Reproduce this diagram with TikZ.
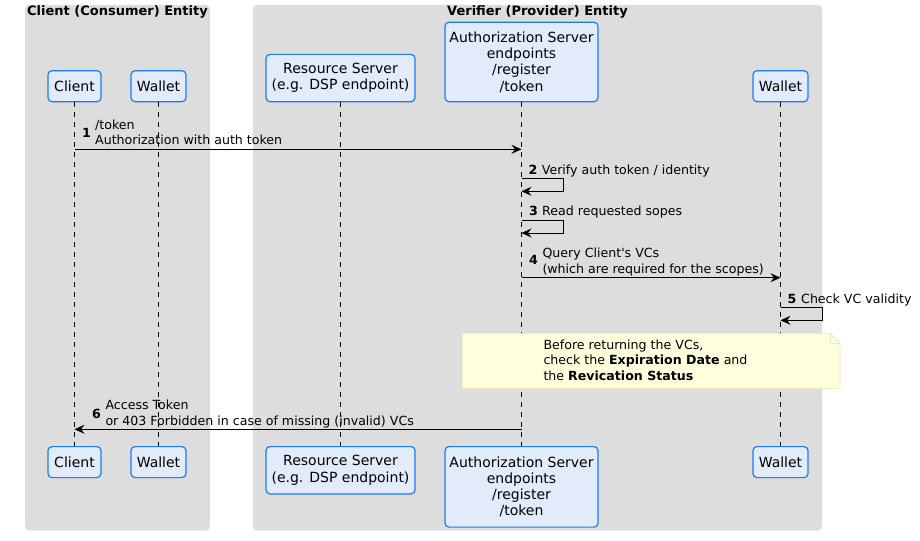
\documentclass[tikz,border=0pt]{standalone}
\usepackage{fontspec}
\setmainfont{DejaVu Sans}
\usetikzlibrary{arrows.meta}
\definecolor{grpfill}{HTML}{DDDDDD}
\definecolor{partfill}{HTML}{E2EBFA}
\definecolor{partdraw}{HTML}{1A7CF7}
\definecolor{notefill}{HTML}{FEFFDD}
\definecolor{notedraw}{HTML}{F0ECB4}
\begin{document}
\begin{tikzpicture}[x=1bp,y=-1bp,
 part/.style={draw=partdraw, fill=partfill, line width=1.2bp, rounded corners=4bp, inner sep=0pt, align=center, font=\fontsize{14bp}{16.3bp}\selectfont},
 grp/.style={fill=grpfill, rounded corners=4bp},
 grptitle/.style={inner sep=0pt, font=\fontsize{13bp}{15.5bp}\selectfont\bfseries},
 life/.style={dash pattern=on 5bp off 5bp, line width=0.8bp},
 msgline/.style={line width=0.9bp, -{Stealth[length=10bp,width=9bp,inset=3.5bp]}},
 lbl/.style={inner sep=0pt, font=\fontsize{12.6bp}{15.5bp}\selectfont},
 num/.style={inner sep=0pt, font=\fontsize{12.6bp}{15.5bp}\selectfont\bfseries},
 notebox/.style={fill=notefill, draw=notedraw, line width=0.8bp},
]
\useasboundingbox (0,0) rectangle (920,541);
\fill[white] (0,0) rectangle (920,541);
% groups
\path[grp] (25,5) rectangle (210,530.5);
\path[grp] (253,5) rectangle (822,530.5);
\node[grptitle, anchor=base] (g1) at (117.5,16) {Client (Consumer) Entity};
\node[grptitle, anchor=base] (g2) at (537.5,16) {Verifier (Provider) Entity};
% participants top
\node[part, anchor=south, minimum width=53bp, minimum height=31bp] (cT) at (74.5,102.3) {Client};
\node[part, anchor=south, minimum width=55bp, minimum height=31bp] (cwT) at (158.5,102.3) {Wallet};
\node[part, anchor=south, minimum width=149bp, minimum height=47.3bp] (rsT) at (340.5,102.3) {Resource Server\\(e.g. DSP endpoint)};
\node[part, anchor=south, minimum width=153bp, minimum height=79.5bp] (asT) at (521.5,102.3) {Authorization Server\\endpoints\\/register\\/token};
\node[part, anchor=south, minimum width=55bp, minimum height=31bp] (vwT) at (780.5,102.3) {Wallet};
% participants bottom
\node[part, anchor=north, minimum width=53bp, minimum height=31bp] (cB) at (74.5,446) {Client};
\node[part, anchor=north, minimum width=55bp, minimum height=31bp] (cwB) at (158.5,446) {Wallet};
\node[part, anchor=north, minimum width=149bp, minimum height=47.3bp] (rsB) at (340.5,446) {Resource Server\\(e.g. DSP endpoint)};
\node[part, anchor=north, minimum width=153bp, minimum height=80.5bp] (asB) at (521.5,446) {Authorization Server\\endpoints\\/register\\/token};
\node[part, anchor=north, minimum width=55bp, minimum height=31bp] (vwB) at (780.5,446) {Wallet};
% lifelines
\draw[life] (cT.south) -- (cB.north);
\draw[life] (cwT.south) -- (cwB.north);
\draw[life] (rsT.south) -- (rsB.north);
\draw[life] (asT.south) -- (asB.north);
\draw[life] (vwT.south) -- (vwB.north);
% message 1
\coordinate (m1a) at (74.5,149.3);
\coordinate (m1b) at (521.5,149.3);
\draw[msgline] (m1a) -- (m1b);
\node[num, anchor=base west] (n1) at (82,138) {1};
\node[lbl, anchor=base west] (l1a) at (95,129.5) {/token};
\node[lbl, anchor=base west] (l1b) at (95,145) {Authorization with auth token};
% message 2
\coordinate (m2a) at (521.5,178.3);
\coordinate (m2b) at (521.5,191.3);
\draw[msgline] (m2a) -- ++(42,0) |- (m2b);
\node[num, anchor=base west] (n2) at (528.5,174.3) {2};
\node[lbl, anchor=base west] (l2) at (541.7,174.3) {Verify auth token / identity};
% message 3
\coordinate (m3a) at (521.5,220.3);
\coordinate (m3b) at (521.5,233);
\draw[msgline] (m3a) -- ++(42,0) |- (m3b);
\node[num, anchor=base west] (n3) at (528.8,215.7) {3};
\node[lbl, anchor=base west] (l3) at (542,215.7) {Read requested sopes};
% message 4
\coordinate (m4a) at (521.5,277.7);
\coordinate (m4b) at (780.5,277.7);
\draw[msgline] (m4a) -- (m4b);
\node[num, anchor=base west] (n4) at (529,265) {4};
\node[lbl, anchor=base west] (l4a) at (542.3,257.9) {Query Client\textquotesingle s VCs};
\node[lbl, anchor=base west] (l4b) at (542.3,273.4) {(which are required for the scopes)};
% message 5
\coordinate (m5a) at (780.5,307.7);
\coordinate (m5b) at (780.5,320.3);
\draw[msgline] (m5a) -- ++(42,0) |- (m5b);
\node[num, anchor=base west] (n5) at (787.5,303.4) {5};
\node[lbl, anchor=base west] (l5) at (801,303.4) {Check VC validity};
% note
\path[notebox] (462.3,333.3) -- (830,333.3) -- (840,343.3) -- (840,388.3) -- (462.3,388.3) -- cycle;
\draw[notedraw, line width=0.8bp] (830,333.3) -- (830,343.3) -- (840,343.3);
\node[lbl, anchor=base west] (nt1) at (543.3,349.3) {Before returning the VCs,};
\node[lbl, anchor=base west] (nt2) at (543.3,364.8) {check the \textbf{Expiration Date} and};
\node[lbl, anchor=base west] (nt3) at (543.3,380.3) {the \textbf{Revication Status}};
% message 6
\coordinate (m6a) at (521.5,429.3);
\coordinate (m6b) at (74.5,429.3);
\draw[msgline] (m6a) -- (m6b);
\node[num, anchor=base west] (n6) at (92,418) {6};
\node[lbl, anchor=base west] (l6a) at (105.3,409.5) {Access Token};
\node[lbl, anchor=base west] (l6b) at (105.3,425) {or 403 Forbidden in case of missing (invalid) VCs};
\end{tikzpicture}
\end{document}
